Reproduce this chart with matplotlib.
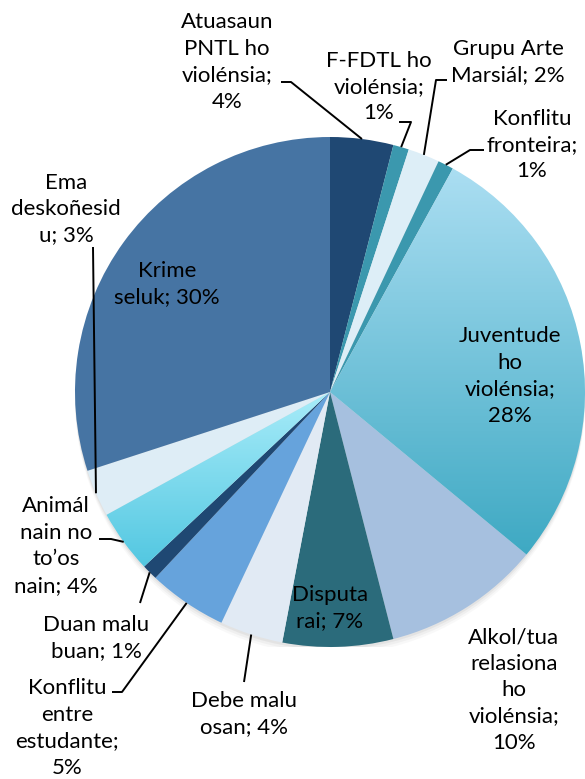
import numpy as np
import matplotlib.pyplot as plt
from matplotlib.patches import Circle
from matplotlib.colors import LinearSegmentedColormap

labels = ["Atuasaun\nPNTL ho\nviolénsia;\n4%", "F-FDTL ho\nviolénsia;\n1%",
          "Grupu Arte\nMarsiál; 2%", "Konflitu\nfronteira;\n1%",
          "Juventude\nho\nviolénsia;\n28%", "Alkol/tua\nrelasiona\nho\nviolénsia;\n10%",
          "Disputa\nrai; 7%", "Debe malu\nosan; 4%", "Konflitu\nentre\nestudante;\n5%",
          "Duan malu\nbuan; 1%", "Animál\nnain no\nto’os\nnain; 4%",
          "Ema\ndeskoñesid\nu; 3%", "Krime\nseluk; 30%"]
values = [4, 1, 2, 1, 28, 10, 7, 4, 5, 1, 4, 3, 30]
colors = ["#1F4873", "#3B98AE", "#DDEEF7", "#3B98AE", "#7CC8E0", "#A6C0DF",
          "#2B6B7B", "#E1EAF4", "#66A3DC", "#1F4873", "#7DD8EE", "#DEEDF6", "#4674A3"]
gradients = {4: ("#ABDEF2", "#3EA9C3"), 10: ("#A8ECF9", "#52C7E1")}

# label centres and leader elbows, in pixels of the picture
label_xy = [(227, 62), (379, 87), (508, 62), (532, 145), (510, 376), (514, 690),
            (330, 608), (244, 714), (67, 728), (96, 638), (56, 546), (66, 209), (167, 284)]
leaders = {0: [(281, 82), (291, 82)], 1: [(399, 122), (411, 122)],
           2: [(447, 80), (436, 80)], 3: [(484, 150), (470, 150)],
           7: [(244, 682)], 8: [(112, 692), (122, 692)], 9: [(140, 603)],
           10: [(99, 539), (111, 539)], 11: [(93, 247)]}

W, H = 585, 779
CX, CY, R = 330, 392, 255

plt.rcParams['font.family'] = ['Lato', 'DejaVu Sans']

fig = plt.figure(figsize=(W / 100, H / 100), dpi=100)
ax = fig.add_axes([(CX - R) / W, (H - CY - R) / H, 2 * R / W, 2 * R / H])


def px(x, y):
    return (x - CX) / R, (CY - y) / R


# soft shadow under the pie
for off, a in [(0.03, 0.05), (0.02, 0.07), (0.01, 0.1)]:
    ax.add_patch(Circle((0, -off), 1.0, color="#808080", alpha=a, lw=0))

wedges, _ = ax.pie(values, colors=colors, startangle=90, counterclock=False,
                   radius=1, wedgeprops=dict(linewidth=0))

for i, (top, bottom) in gradients.items():
    w = wedges[i]
    th = np.radians(np.linspace(w.theta1, w.theta2, 200))
    ys = np.concatenate([np.sin(th), [0]])
    cmap = LinearSegmentedColormap.from_list("g%d" % i, [bottom, top])
    grad = np.linspace(0, 1, 256).reshape(-1, 1)
    im = ax.imshow(grad, cmap=cmap, extent=(-1, 1, ys.min(), ys.max()),
                   origin="lower", aspect="auto", zorder=w.get_zorder())
    im.set_clip_path(w)
    w.set_facecolor("none")

for i, (lab, (lx, ly)) in enumerate(zip(labels, label_xy)):
    tx, ty = px(lx, ly)
    ax.text(tx, ty, lab, ha="center", va="center", fontsize=16, linespacing=1.4,
            color="black")
    if i in leaders:
        w = wedges[i]
        mid = np.radians((w.theta1 + w.theta2) / 2)
        pts = [px(*p) for p in leaders[i]] + [(np.cos(mid), np.sin(mid))]
        xs, ys = zip(*pts)
        ax.plot(xs, ys, color="black", lw=1.4, solid_capstyle="butt", clip_on=False)

ax.set_xlim(-1, 1)
ax.set_ylim(-1, 1)
ax.axis("off")

fig.savefig("out.png", dpi=100)
